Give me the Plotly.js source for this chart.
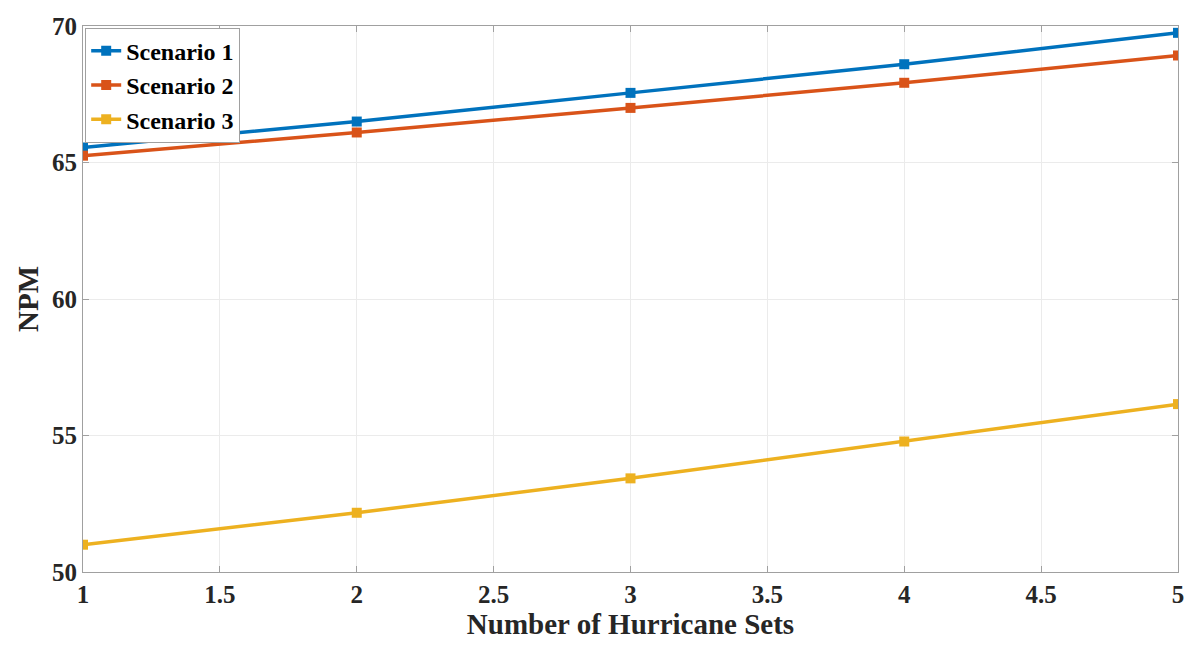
<!DOCTYPE html>
<html>
<head>
<meta charset="utf-8">
<script src="https://cdn.plot.ly/plotly-3.0.1.min.js"></script>
<style>html,body{margin:0;padding:0;background:#fff;}#chart{width:1187px;height:648px;}</style>
</head>
<body>
<div id="chart"></div>
<script>
const hurricaneSets = [1, 2, 3, 4, 5];
const scenario1 = [65.55, 66.5, 67.55, 68.6, 69.75];
const scenario2 = [65.25, 66.1, 67.0, 67.92, 68.92];
const scenario3 = [51.0, 52.17, 53.43, 54.78, 56.15];
const seriesNames = ["Scenario 1", "Scenario 2", "Scenario 3"];
const seriesColors = ["#0072BD", "#D95319", "#EDB120"];
const seriesValues = [scenario1, scenario2, scenario3];

const font = "Liberation Serif, Times New Roman, serif";
const traces = seriesValues.map((v, i) => ({
  x: hurricaneSets, y: v, type: "scatter", mode: "lines+markers",
  name: seriesNames[i],
  line: {color: seriesColors[i], width: 3.5},
  marker: {color: seriesColors[i], symbol: "square", size: 10}
}));

const layout = {
  width: 1187, height: 648,
  margin: {l: 83, r: 9, t: 26, b: 76},
  paper_bgcolor: "#fff", plot_bgcolor: "#fff",
  font: {family: font, color: "#262626"},
  xaxis: {
    range: [1, 5], dtick: 0.5, tick0: 1,
    showgrid: true, gridcolor: "#ebebeb", gridwidth: 1,
    zeroline: false, showline: true, linecolor: "#a0a0a0", linewidth: 1, mirror: "ticks",
    ticks: "inside", ticklen: 6, tickcolor: "#a0a0a0",
    tickfont: {family: font, size: 25, color: "#262626", weight: "bold"},
    title: {text: "<b>Number of Hurricane Sets</b>", font: {family: font, size: 29, color: "#262626"}, standoff: 4}
  },
  yaxis: {
    range: [50, 70], dtick: 5, tick0: 50,
    showgrid: true, gridcolor: "#ebebeb", gridwidth: 1,
    zeroline: false, showline: true, linecolor: "#a0a0a0", linewidth: 1, mirror: "ticks",
    ticks: "inside", ticklen: 6, tickcolor: "#a0a0a0",
    tickfont: {family: font, size: 25, color: "#262626", weight: "bold"},
    title: {text: "<b>NPM</b>", font: {family: font, size: 29, color: "#262626"}, standoff: 4}
  },
  legend: {
    x: 0.002, y: 0.997, xanchor: "left", yanchor: "top",
    bgcolor: "#fff", bordercolor: "#a0a0a0", borderwidth: 1,
    font: {family: font, size: 24, color: "#000", weight: "bold"},
    tracegroupgap: 0, itemwidth: 30
  },
  showlegend: true
};
Plotly.newPlot("chart", traces, layout, {displayModeBar: false, staticPlot: true});
</script>
</body>
</html>
